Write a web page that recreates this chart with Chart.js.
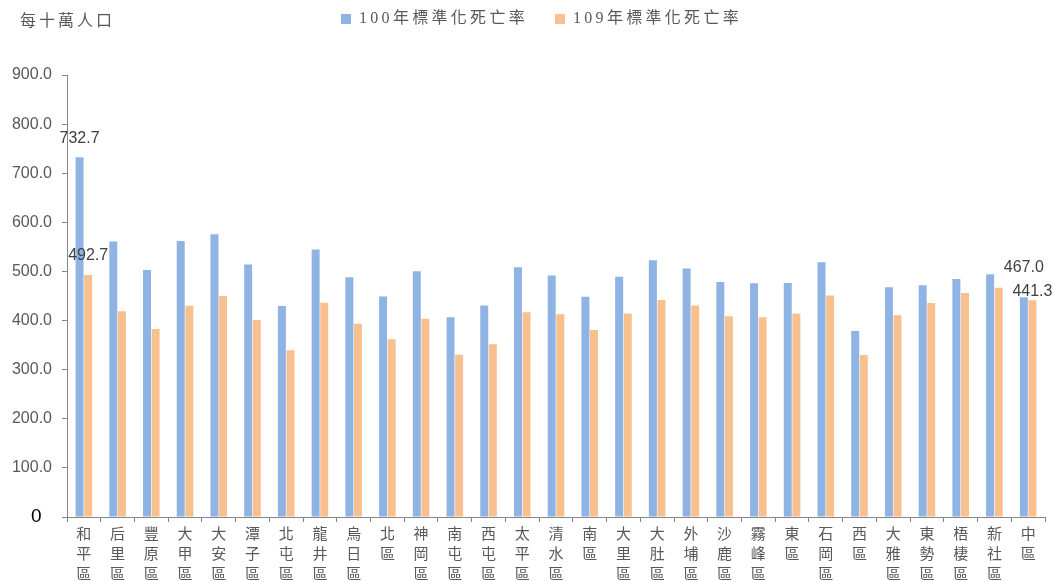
<!DOCTYPE html>
<html lang="zh-Hant">
<head>
<meta charset="utf-8">
<title>臺中市各區標準化死亡率</title>
<script src="https://cdn.jsdelivr.net/npm/chart.js@4.4.1/dist/chart.umd.min.js"></script>
<style>
  body { margin: 0; background: #fff; }
</style>
</head>
<body>
<canvas id="chart" width="1053" height="581"></canvas>
<script>
// 各區名稱（由左至右）
const districts = [
  '和平區', '后里區', '豐原區', '大甲區', '大安區', '潭子區', '北屯區', '龍井區', '烏日區', '北區',
  '神岡區', '南屯區', '西屯區', '太平區', '清水區', '南區', '大里區', '大肚區', '外埔區', '沙鹿區',
  '霧峰區', '東區', '石岡區', '西區', '大雅區', '東勢區', '梧棲區', '新社區', '中區'
];

// 100年標準化死亡率（每十萬人口）
const rate100 = [
  732.7, 561.2, 502.8, 562.0, 575.6, 514.3, 429.4, 544.8, 488.1, 448.9,
  500.6, 406.8, 430.9, 508.7, 491.6, 448.7, 489.0, 522.6, 505.8, 478.3,
  475.9, 476.6, 518.5, 378.9, 467.9, 471.8, 484.6, 494.5, 467.0
];

// 109年標準化死亡率（每十萬人口）
const rate109 = [
  492.7, 418.9, 382.6, 430.1, 449.8, 401.2, 339.6, 436.4, 393.5, 361.8,
  403.9, 330.2, 351.7, 416.9, 412.8, 380.6, 414.6, 441.8, 430.6, 408.8,
  406.8, 414.6, 450.8, 330.0, 410.7, 435.7, 456.0, 466.6, 441.3
];

const seriesNames = ['100年標準化死亡率', '109年標準化死亡率'];
const unitLabel = '每十萬人口';
const yMax = 900;
const yStep = 100;
// 只有這兩區有標示數值
const labelledDistricts = ['和平區', '中區'];

const grey = '#595959';
const axisColor = '#868686';
const cjkFont = "'Noto Sans CJK TC', sans-serif";

// 標題和圖例放在同一列，並加上字距
const headerPlugin = {
  id: 'header',
  afterInit(chart) {
    const title = chart.titleBlock;
    const legend = chart.legend;

    const titleUpdate = title.update;
    title.update = function (w, h) {
      titleUpdate.call(this, w, h);
      this.height = 0;
      this.bottom = this.top;
    };
    const titleDraw = title.draw;
    title.draw = function () {
      const ctx = this.ctx;
      ctx.save();
      ctx.translate(20, 0);
      ctx.letterSpacing = '3px';
      titleDraw.call(this);
      ctx.restore();
    };

    const legendFit = legend.fit;
    legend.fit = function () {
      this.ctx.save();
      this.ctx.letterSpacing = '3.3px';
      legendFit.call(this);
      this.ctx.restore();
      this.height = 75;
    };
    const legendDraw = legend.draw;
    legend.draw = function () {
      const ctx = this.ctx;
      ctx.save();
      ctx.translate(19, -16);
      ctx.letterSpacing = '3.3px';
      legendDraw.call(this);
      ctx.restore();
    };
  }
};

// 和平區、中區的數值標籤
const valueLabelPlugin = {
  id: 'valueLabels',
  afterDatasetsDraw(chart) {
    const ctx = chart.ctx;
    const lift = { '和平區': [19, 19], '中區': [20, 9] };
    ctx.save();
    ctx.font = "16px 'Liberation Sans', sans-serif";
    ctx.textAlign = 'center';
    ctx.textBaseline = 'middle';
    chart.data.datasets.forEach((ds, i) => {
      const meta = chart.getDatasetMeta(i);
      labelledDistricts.forEach(name => {
        const j = districts.indexOf(name);
        const bar = meta.data[j];
        const text = ds.data[j].toFixed(1);
        const x = bar.x;
        const y = bar.y - lift[name][i];
        if (name === '中區' && i === 1) {
          const w = ctx.measureText(text).width;
          ctx.fillStyle = '#fff';
          ctx.fillRect(x - w / 2, y - 6, w, 12);
        }
        ctx.fillStyle = '#404040';
        ctx.fillText(text, x, y);
      });
    });
    ctx.restore();
  }
};

const isZero = ctx => ctx.tick !== undefined && ctx.tick.value === 0;

new Chart(document.getElementById('chart'), {
  type: 'bar',
  data: {
    labels: districts.map(d => d.split('')),
    datasets: [
      {
        label: seriesNames[0],
        data: rate100,
        backgroundColor: '#8FB4E3',
        borderWidth: 0,
        categoryPercentage: 0.51,
        barPercentage: 0.93
      },
      {
        label: seriesNames[1],
        data: rate109,
        backgroundColor: '#F9C08F',
        borderWidth: 0,
        categoryPercentage: 0.51,
        barPercentage: 0.93
      }
    ]
  },
  options: {
    responsive: false,
    animation: false,
    layout: { padding: { left: 0, right: 8, top: 0, bottom: 0 } },
    plugins: {
      title: {
        display: true,
        text: unitLabel,
        align: 'start',
        color: grey,
        font: { family: cjkFont, size: 16, weight: 'normal' },
        padding: { top: 10, bottom: 0 }
      },
      legend: {
        position: 'top',
        labels: {
          boxWidth: 10,
          boxHeight: 10,
          padding: 27,
          color: grey,
          font: { family: "'Liberation Serif', " + cjkFont, size: 16 }
        }
      },
      tooltip: { enabled: false }
    },
    scales: {
      x: {
        grid: {
          display: true,
          drawOnChartArea: false,
          offset: true,
          tickLength: 5,
          color: axisColor
        },
        border: { color: axisColor, width: 1 },
        ticks: {
          color: grey,
          maxRotation: 0,
          autoSkip: false,
          padding: 1,
          font: { family: cjkFont, size: 15, lineHeight: 1.33 }
        },
        afterFit(scale) { scale.height = 64; }
      },
      y: {
        min: 0,
        max: yMax,
        grid: {
          display: true,
          drawOnChartArea: false,
          tickLength: 5,
          color: axisColor
        },
        border: { color: axisColor, width: 1 },
        ticks: {
          stepSize: yStep,
          padding: 10,
          color: ctx => isZero(ctx) ? '#000' : grey,
          font: ctx => isZero(ctx)
            ? { family: "'Liberation Sans', sans-serif", size: 19 }
            : { family: "'Liberation Sans', sans-serif", size: 16 },
          callback: v => v === 0 ? '0  ' : v.toFixed(1)
        },
        afterFit(scale) { scale.width = 67; }
      }
    }
  },
  plugins: [headerPlugin, valueLabelPlugin]
});
</script>
</body>
</html>
